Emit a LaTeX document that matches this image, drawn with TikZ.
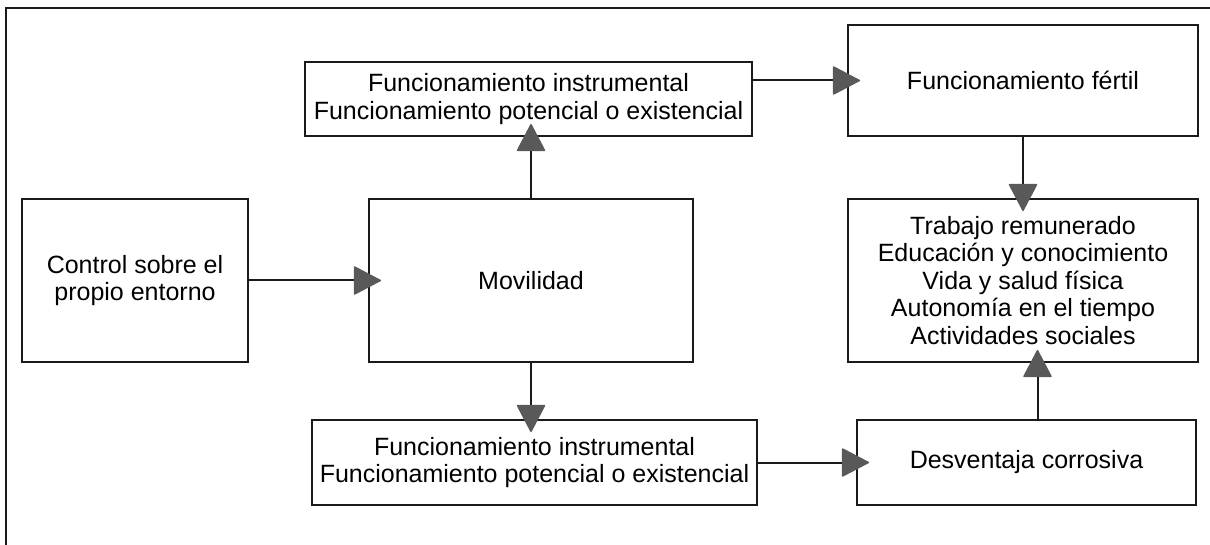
\documentclass[tikz,border=0pt]{standalone}
\usepackage{fontspec}
\setmainfont{Liberation Sans}
\usetikzlibrary{arrows.meta}
\definecolor{arrowgray}{HTML}{595959}
\definecolor{linecol}{HTML}{1A1A1A}
\begin{document}
\begin{tikzpicture}[x=1pt,y=-1pt,
  box/.style={draw=linecol, line width=1.9pt, align=center, inner sep=0pt,
    font=\fontsize{25}{27.5}\selectfont},
  conn/.style={draw=linecol, line width=2pt,
    -{Triangle[length=28pt,width=29pt,round,color=arrowgray,fill=arrowgray,line width=1.5pt]},
    shorten >=-13pt}]
\useasboundingbox (0,0) rectangle (1210,545);
\draw[line width=2.4pt, color=linecol] (1210,8) -- (6,8) -- (6,545);

\node[box, minimum width=226pt, minimum height=163pt] (ctrl) at (135,280.5) {Control sobre el\\propio entorno};
\node[box, minimum width=324pt, minimum height=163pt] (mov) at (531,280.5) {Movilidad};
\node[box, minimum width=447pt, minimum height=74pt] (top) at (528.5,99) {Funcionamiento instrumental\\Funcionamiento potencial o existencial};
\node[box, minimum width=350pt, minimum height=111pt] (fert) at (1023,80.5) {Funcionamiento fértil};
\node[box, minimum width=350pt, minimum height=163pt] (list) at (1023,280.5) {Trabajo remunerado\\Educación y conocimiento\\Vida y salud física\\Autonomía en el tiempo\\Actividades sociales};
\node[box, minimum width=445pt, minimum height=85pt] (bot) at (534.5,462.5) {Funcionamiento instrumental\\Funcionamiento potencial o existencial};
\node[box, minimum width=339pt, minimum height=85pt] (desv) at (1026.5,462.5) {Desventaja corrosiva};

\draw[conn] (ctrl.east) -- (mov.west);
\draw[conn] (mov.north) -- (mov.north |- top.south);
\draw[conn] (mov.south) -- (mov.south |- bot.north);
\draw[conn] (top.east |- fert.west) -- (fert.west);
\draw[conn] (fert.south) -- (list.north);
\draw[conn] (bot.east) -- (desv.west);
\draw[conn] ([xshift=11pt]desv.north) -- ([xshift=11pt]desv.north |- list.south);
\end{tikzpicture}
\end{document}
